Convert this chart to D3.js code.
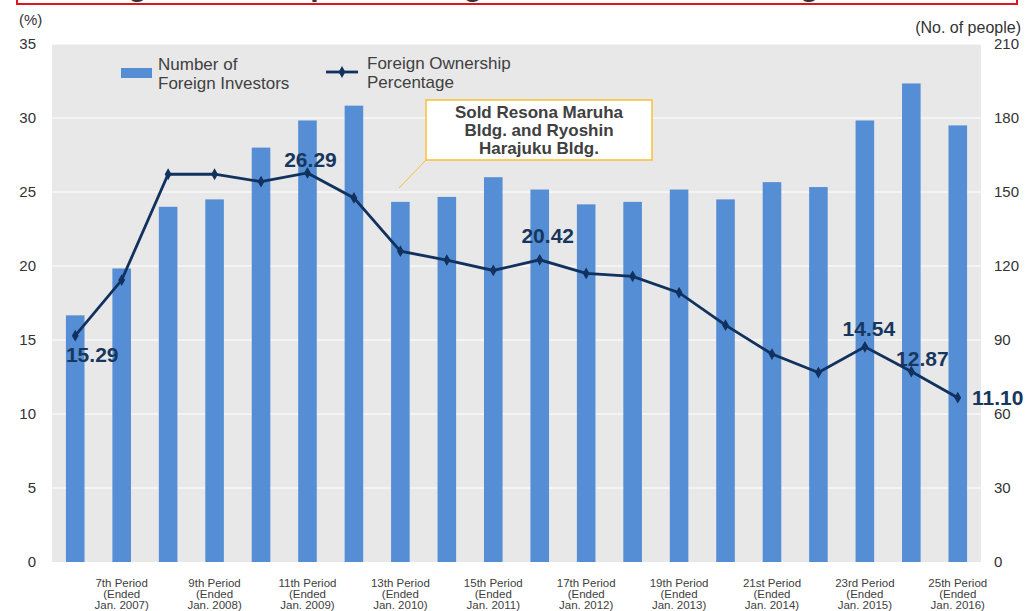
<!DOCTYPE html>
<html>
<head>
<meta charset="utf-8">
<script src="https://cdn.jsdelivr.net/npm/d3@7"></script>
<style>
  html, body { margin: 0; padding: 0; background: #fff; }
  svg { display: block; font-family: "Liberation Sans", Arial, sans-serif; }
</style>
</head>
<body>
<svg id="chart" width="1027" height="611"></svg>
<script>
// Fiscal periods (6th to 25th)
const periods = ["6th","7th","8th","9th","10th","11th","12th","13th","14th","15th",
                 "16th","17th","18th","19th","20th","21st","22nd","23rd","24th","25th"];
const periodEnds = ["Jul. 2006","Jan. 2007","Jul. 2007","Jan. 2008","Jul. 2008","Jan. 2009","Jul. 2009","Jan. 2010","Jul. 2010","Jan. 2011",
                    "Jul. 2011","Jan. 2012","Jul. 2012","Jan. 2013","Jul. 2013","Jan. 2014","Jul. 2014","Jan. 2015","Jul. 2015","Jan. 2016"];
// Number of foreign investors (right axis, people)
const investors = [100,119,144,147,168,179,185,146,148,156,151,145,146,151,147,154,152,179,194,177];
// Foreign ownership percentage (left axis, %)
const ownership = [15.29,19.05,26.2,26.2,25.7,26.29,24.6,21.0,20.4,19.7,20.42,19.5,19.3,18.2,16.0,14.05,12.8,14.54,12.87,11.10];
// Points whose value is printed, with label placement
const labelled = [
  {i: 0,  dx: 17, dy: 19},
  {i: 5,  dx: 3,  dy: -13},
  {i: 10, dx: 8,  dy: -24},
  {i: 17, dx: 4,  dy: -18},
  {i: 18, dx: 11, dy: -13},
  {i: 19, dx: 40, dy: 0}
];
const leftTicks = [0,5,10,15,20,25,30,35];
const rightTicks = [0,30,60,90,120,150,180,210];

const svg = d3.select("#chart");
const plot = {left: 52, right: 981, top: 44, bottom: 562};

const x = d3.scaleBand().domain(periods).range([plot.left, plot.right]).paddingInner(0.6).paddingOuter(0.3);
const yL = d3.scaleLinear().domain([0, 35]).range([plot.bottom, plot.top]);
const yR = d3.scaleLinear().domain([0, 210]).range([plot.bottom, plot.top]);

// Title banner (mostly above the visible area)
svg.append("rect").attr("x", 17).attr("y", -40).attr("width", 1000).attr("height", 44)
  .attr("fill", "#fff").attr("stroke", "#e3131b").attr("stroke-width", 2);
svg.append("text").attr("x", 517).attr("y", -4).attr("text-anchor", "middle")
  .attr("font-size", 30).attr("font-weight", "bold").attr("fill", "#333")
  .text("Foreign Ownership Percentage and Number of Foreign Investors");

// Plot background
svg.append("rect").attr("x", plot.left).attr("y", plot.top)
  .attr("width", plot.right - plot.left).attr("height", plot.bottom - plot.top)
  .attr("fill", "#e8e8e8");

// Gridlines
svg.append("g").selectAll("line").data(leftTicks.slice(1)).join("line")
  .attr("x1", plot.left).attr("x2", plot.right)
  .attr("y1", d => yL(d)).attr("y2", d => yL(d))
  .attr("stroke", "#fff").attr("stroke-width", 1.2);

// Left axis
const axL = d3.axisLeft(yL).tickValues(leftTicks).tickSize(0).tickPadding(0);
const gL = svg.append("g").attr("transform", `translate(36,0)`).call(axL);
gL.select(".domain").remove();
gL.selectAll("text").attr("font-size", 15).attr("fill", "#333").attr("font-family", "Liberation Sans, Arial, sans-serif");

// Right axis
const axR = d3.axisRight(yR).tickValues(rightTicks).tickSize(0).tickPadding(0);
const gR = svg.append("g").attr("transform", `translate(994,0)`).call(axR);
gR.select(".domain").remove();
gR.selectAll("text").attr("font-size", 15).attr("fill", "#333").attr("font-family", "Liberation Sans, Arial, sans-serif");

// Axis unit captions
svg.append("text").attr("x", 19).attr("y", 25).attr("font-size", 15).attr("fill", "#333").text("(%)");
svg.append("text").attr("x", 1021).attr("y", 33).attr("text-anchor", "end").attr("font-size", 16).attr("fill", "#333").text("(No. of people)");

// Bars
svg.append("g").selectAll("rect").data(investors).join("rect")
  .attr("x", (d, i) => x(periods[i]))
  .attr("width", x.bandwidth())
  .attr("y", d => yR(d))
  .attr("height", d => yR(0) - yR(d))
  .attr("fill", "#558ed5");

// Category labels (every other period)
const cx = p => x(p) + x.bandwidth() / 2;
const xl = svg.append("g").selectAll("text")
  .data(periods.map((p, i) => ({p, e: periodEnds[i], i})).filter(d => d.i % 2 === 1))
  .join("text")
  .attr("text-anchor", "middle").attr("font-size", 11.5).attr("fill", "#404040");
xl.append("tspan").attr("x", d => cx(d.p)).attr("y", 587).text(d => d.p + " Period");
xl.append("tspan").attr("x", d => cx(d.p)).attr("y", 598).text("(Ended");
xl.append("tspan").attr("x", d => cx(d.p)).attr("y", 609).text(d => d.e + ")");

// Ownership line
const line = d3.line().x((d, i) => cx(periods[i])).y(d => yL(d));
const navy = "#11315e";
svg.append("path").datum(ownership).attr("d", line)
  .attr("fill", "none").attr("stroke", navy).attr("stroke-width", 2.8);
svg.append("g").selectAll("path").data(ownership).join("path")
  .attr("d", d3.symbol(d3.symbolDiamond, 40))
  .attr("transform", (d, i) => `translate(${cx(periods[i])},${yL(d)})`)
  .attr("fill", navy);

// Value labels
svg.append("g").selectAll("text").data(labelled).join("text")
  .attr("x", d => cx(periods[d.i]) + d.dx)
  .attr("y", d => yL(ownership[d.i]) + d.dy)
  .attr("dy", "0.35em")
  .attr("text-anchor", "middle").attr("font-size", 21).attr("font-weight", "bold")
  .attr("fill", "#17375e")
  .text(d => ownership[d.i].toFixed(2));

// Legend
svg.append("rect").attr("x", 121).attr("y", 68).attr("width", 31).attr("height", 10).attr("fill", "#558ed5");
const lg1 = svg.append("text").attr("font-size", 17).attr("fill", "#404040");
lg1.append("tspan").attr("x", 158).attr("y", 70).text("Number of");
lg1.append("tspan").attr("x", 158).attr("y", 89).text("Foreign Investors");
svg.append("line").attr("x1", 326).attr("x2", 358).attr("y1", 72).attr("y2", 72)
  .attr("stroke", navy).attr("stroke-width", 2.8);
svg.append("path").attr("d", d3.symbol(d3.symbolDiamond, 40)).attr("transform", "translate(342,72)").attr("fill", navy);
const lg2 = svg.append("text").attr("font-size", 17).attr("fill", "#404040");
lg2.append("tspan").attr("x", 367).attr("y", 69).text("Foreign Ownership");
lg2.append("tspan").attr("x", 367).attr("y", 88).text("Percentage");

// Callout
svg.append("line").attr("x1", 426).attr("y1", 160).attr("x2", 399).attr("y2", 188)
  .attr("stroke", "#f7c034").attr("stroke-width", 1);
svg.append("rect").attr("x", 426).attr("y", 100).attr("width", 226).attr("height", 60)
  .attr("fill", "#fff").attr("stroke", "#f7c034").attr("stroke-width", 1.5);
const co = svg.append("text").attr("text-anchor", "middle").attr("font-size", 17)
  .attr("font-weight", "bold").attr("fill", "#404040");
["Sold Resona Maruha", "Bldg. and Ryoshin", "Harajuku Bldg."].forEach((t, k) => {
  co.append("tspan").attr("x", 539).attr("y", 118 + k * 18).text(t);
});
</script>
</body>
</html>
